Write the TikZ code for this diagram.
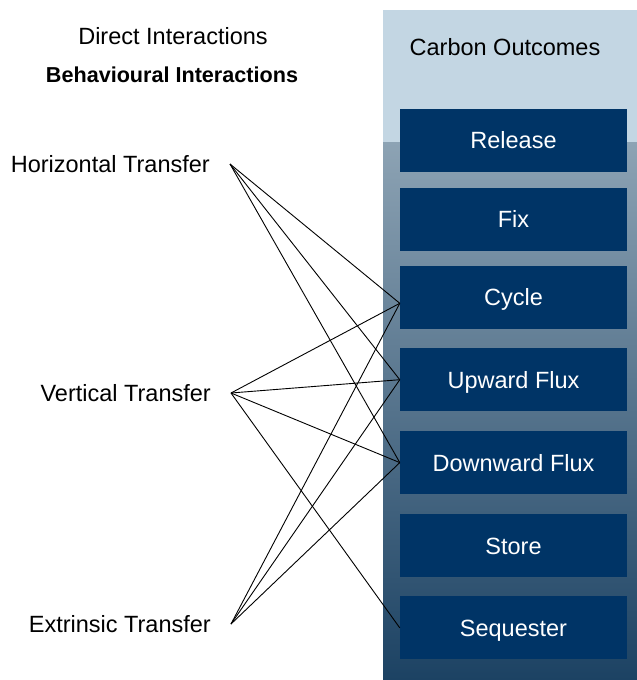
\documentclass[tikz,border=0pt]{standalone}
\usepackage{fontspec}
\setmainfont{Liberation Sans}
\usetikzlibrary{positioning}
\definecolor{navy}{HTML}{003466}
\definecolor{paleblue}{HTML}{C3D6E3}
\definecolor{steeltop}{HTML}{8DA3B4}
\definecolor{steelbot}{HTML}{1C4263}

\begin{document}
\begin{tikzpicture}[x=1pt, y=-1pt,
    big/.style={font=\fontsize{23.5}{28}\selectfont},
    outcome/.style={rectangle, fill=navy, text=white, big, inner sep=0pt,
        minimum width=227pt, minimum height=63pt, text height=17pt, text depth=0pt},
    driver/.style={anchor=east, inner xsep=20pt, inner ysep=0pt, big},
    link/.style={line width=0.9pt}]

    \useasboundingbox (0,0) rectangle (637,680);
    \fill[paleblue] (383,10) rectangle (637,142);
    \shade[top color=steeltop, bottom color=steelbot] (383,142) rectangle (637,680);

    \node[anchor=base, big] (DI) at (173,44) {Direct Interactions};
    \node[anchor=base, font=\fontsize{21.6}{26}\selectfont\bfseries] (BI) at (172,82) {Behavioural Interactions};
    \node[anchor=base, big] (CO) at (505,55) {Carbon Outcomes};

    \node[outcome] (Rel) at (513.5,140) {Release};
    \node[outcome] (Fix) [below=16pt of Rel] {Fix};
    \node[outcome] (Cyc) [below=14.5pt of Fix] {Cycle};
    \node[outcome] (Up)  [below=19pt of Cyc] {Upward Flux};
    \node[outcome] (Down) [below=19.5pt of Up] {Downward Flux};
    \node[outcome] (Sto) [below=19.5pt of Down] {Store};
    \node[outcome] (Seq) [below=19pt of Sto] {Sequester};

    \node[driver] (HT) at (230,164) {Horizontal Transfer};
    \node[driver] (VT) at (231,393) {Vertical Transfer};
    \node[driver] (ET) at (231,624) {Extrinsic Transfer};

    \draw[link] (HT.east) -- ([yshift=-6pt]Cyc.west);
    \draw[link] (HT.east) -- (Up.west);
    \draw[link] (HT.east) -- (Down.west);
    \draw[link] (VT.east) -- ([yshift=-6pt]Cyc.west);
    \draw[link] (VT.east) -- (Up.west);
    \draw[link] (VT.east) -- (Down.west);
    \draw[link] (VT.east) -- (Seq.west);
    \draw[link] (ET.east) -- ([yshift=-6pt]Cyc.west);
    \draw[link] (ET.east) -- (Up.west);
    \draw[link] (ET.east) -- (Down.west);
\end{tikzpicture}
\end{document}
